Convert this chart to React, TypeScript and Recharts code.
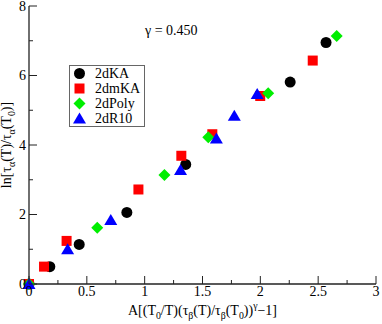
import React from "react";
import { ScatterChart, Scatter, XAxis, YAxis, Legend, ReferenceDot, Label } from "recharts";

// values
const kaX = [0, 0.18, 0.434, 0.846, 1.355, 2.258, 2.568];
const kaY = [0, 0.5, 1.14, 2.06, 3.44, 5.81, 6.95];
const mkaX = [0, 0.13, 0.325, 0.946, 1.317, 1.585, 1.999, 2.453];
const mkaY = [0, 0.5, 1.24, 2.72, 3.69, 4.31, 5.41, 6.43];
const polyX = [0, 0.59, 1.171, 1.55, 2.068, 2.66];
const polyY = [0, 1.62, 3.14, 4.22, 5.49, 7.14];
const r10X = [0, 0.334, 0.707, 1.31, 1.62, 1.775, 1.973];
const r10Y = [0, 1.0, 1.84, 3.28, 4.19, 4.84, 5.47];

const xTicks = [0, 0.25, 0.5, 0.75, 1, 1.25, 1.5, 1.75, 2, 2.25, 2.5, 2.75, 3];
const xMajor = [0, 0.5, 1, 1.5, 2, 2.5, 3];
const yTicks = [0, 1, 2, 3, 4, 5, 6, 7, 8];
const yMajor = [0, 2, 4, 6, 8];
const gammaText = "γ = 0.450";

const FONT = "'Liberation Serif', 'Times New Roman', serif";
const AXIS = "#222";

const zip = (xs: number[], ys: number[]) => xs.map((x, i) => ({ x, y: ys[i] }));

const Circle = (p: any) => <circle cx={p.cx} cy={p.cy} r={5.5} fill="#000" />;
const Square = (p: any) => <rect x={p.cx - 5} y={p.cy - 5} width={10} height={10} fill="#ff0000" />;
const Diamond = (p: any) => (
  <polygon points={`${p.cx},${p.cy - 6} ${p.cx + 6},${p.cy} ${p.cx},${p.cy + 6} ${p.cx - 6},${p.cy}`} fill="#00ee00" />
);
const Triangle = (p: any) => (
  <polygon points={`${p.cx},${p.cy - 6} ${p.cx + 6.5},${p.cy + 5} ${p.cx - 6.5},${p.cy + 5}`} fill="#0000ff" />
);

const series = [
  { name: "2dKA", data: zip(kaX, kaY), shape: Circle },
  { name: "2dmKA", data: zip(mkaX, mkaY), shape: Square },
  { name: "2dPoly", data: zip(polyX, polyY), shape: Diamond },
  { name: "2dR10", data: zip(r10X, r10Y), shape: Triangle },
];

// parts: [text, 0 normal | 1 subscript | -1 superscript]
type Part = [string, number];
const RichText = ({ parts, size }: { parts: Part[]; size: number }) => {
  let cur = 0;
  return (
    <>
      {parts.map(([t, k], i) => {
        const target = k === 1 ? 4 : k === -1 ? -6 : 0;
        const dy = target - cur;
        cur = target;
        return (
          <tspan key={i} dy={dy} fontSize={k === 0 ? size : size * 0.7}>
            {t}
          </tspan>
        );
      })}
    </>
  );
};

const xLabelParts: Part[] = [
  ["A[(T", 0], ["0", 1], ["/T)(τ", 0], ["β", 1], ["(T)/τ", 0], ["β", 1], ["(T", 0], ["0", 1], ["))", 0], ["γ", -1], ["−1]", 0],
];
const yLabelParts: Part[] = [
  ["ln[τ", 0], ["α", 1], ["(T)/τ", 0], ["α", 1], ["(T", 0], ["0", 1], [")]", 0],
];

const BottomTick = (p: any) => {
  const v = p.payload.value;
  const major = xMajor.includes(v);
  return (
    <g>
      <line x1={p.x} x2={p.x} y1={p.y} y2={p.y - (major ? 8 : 4)} stroke={AXIS} strokeWidth={1} />
      {major && (
        <text x={p.x} y={p.y + 12} textAnchor="middle" fontSize={14} fontFamily={FONT} fill="#000">
          {v}
        </text>
      )}
    </g>
  );
};
const TopTick = (p: any) => {
  const major = xMajor.includes(p.payload.value);
  return <line x1={p.x} x2={p.x} y1={p.y} y2={p.y + (major ? 8 : 4)} stroke={AXIS} strokeWidth={1} />;
};
const LeftTick = (p: any) => {
  const v = p.payload.value;
  const major = yMajor.includes(v);
  return (
    <g>
      <line x1={p.x} x2={p.x + (major ? 8 : 4)} y1={p.y} y2={p.y} stroke={AXIS} strokeWidth={1} />
      {major && (
        <text x={p.x - 3} y={p.y} dy="0.34em" textAnchor="end" fontSize={14} fontFamily={FONT} fill="#000">
          {v}
        </text>
      )}
    </g>
  );
};
const RightTick = (p: any) => {
  const major = yMajor.includes(p.payload.value);
  return <line x1={p.x} x2={p.x - (major ? 8 : 4)} y1={p.y} y2={p.y} stroke={AXIS} strokeWidth={1} />;
};

const LegendBox = () => (
  <div
    style={{
      border: "1px solid #666",
      background: "#fff",
      width: 74,
      fontFamily: FONT,
      fontSize: 14,
      lineHeight: "15px",
      color: "#000",
    }}
  >
    {series.map((s) => (
      <div key={s.name} style={{ display: "flex", alignItems: "center", height: 15 }}>
        <svg width={20} height={15} style={{ marginRight: 5 }}>
          {s.shape({ cx: 9.5, cy: 7.5 })}
        </svg>
        <span>{s.name}</span>
      </div>
    ))}
  </div>
);

export default function App() {
  return (
    <div style={{ position: "absolute", left: 0, top: 0, background: "#fff" }}>
      <ScatterChart width={382} height={324} margin={{ top: 6, right: 6, bottom: 0, left: 0 }}>
        <XAxis
          xAxisId="b"
          type="number"
          dataKey="x"
          domain={[0, 3]}
          ticks={xTicks}
          interval={0}
          height={40}
          tickSize={0}
          tickMargin={0}
          tickLine={false}
          axisLine={{ stroke: AXIS, strokeWidth: 1.3 }}
          tick={BottomTick}
        >
          <Label
            content={(lp: any) => {
              const vb = lp.viewBox;
              return (
                <text x={vb.x + vb.width / 2} y={vb.y + 31} textAnchor="middle" fontFamily={FONT} fill="#000">
                  <RichText parts={xLabelParts} size={14} />
                </text>
              );
            }}
          />
        </XAxis>
        <XAxis
          xAxisId="t"
          orientation="top"
          type="number"
          dataKey="x"
          domain={[0, 3]}
          ticks={xTicks}
          interval={0}
          height={0}
          tickSize={0}
          tickMargin={0}
          tickLine={false}
          axisLine={{ stroke: AXIS, strokeWidth: 1.3 }}
          tick={TopTick}
        />
        <YAxis
          yAxisId="l"
          type="number"
          dataKey="y"
          domain={[0, 8]}
          ticks={yTicks}
          interval={0}
          width={29}
          tickSize={0}
          tickMargin={0}
          tickLine={false}
          axisLine={{ stroke: AXIS, strokeWidth: 1.3 }}
          tick={LeftTick}
        >
          <Label
            content={(lp: any) => {
              const vb = lp.viewBox;
              const cx = vb.x + 11;
              const cy = vb.y + vb.height / 2;
              return (
                <text x={cx} y={cy} textAnchor="middle" fontFamily={FONT} fill="#000" transform={`rotate(-90, ${cx}, ${cy})`}>
                  <RichText parts={yLabelParts} size={14} />
                </text>
              );
            }}
          />
        </YAxis>
        <YAxis
          yAxisId="r"
          orientation="right"
          type="number"
          dataKey="y"
          domain={[0, 8]}
          ticks={yTicks}
          interval={0}
          width={0}
          tickSize={0}
          tickMargin={0}
          tickLine={false}
          axisLine={{ stroke: AXIS, strokeWidth: 1.3 }}
          tick={RightTick}
        />
        {series.map((s) => (
          <Scatter
            key={s.name}
            name={s.name}
            data={s.data}
            xAxisId="b"
            yAxisId="l"
            shape={s.shape}
            isAnimationActive={false}
          />
        ))}
        <ReferenceDot xAxisId="b" yAxisId="l" x={1.23} y={7.31} r={0.1} fill="none" stroke="none">
          <Label
            content={(lp: any) => {
              const vb = lp.viewBox;
              return (
                <text
                  x={vb.x + vb.width / 2}
                  y={vb.y + vb.height / 2}
                  dy="0.34em"
                  textAnchor="middle"
                  fill="#000"
                  style={{ fontFamily: FONT, fontSize: 14 }}
                >
                  {gammaText}
                </text>
              );
            }}
          />
        </ReferenceDot>
        <Legend
          layout="vertical"
          align="center"
          verticalAlign="middle"
          wrapperStyle={{ left: 69, top: 65, width: 76 }}
          content={() => <LegendBox />}
        />
      </ScatterChart>
    </div>
  );
}
